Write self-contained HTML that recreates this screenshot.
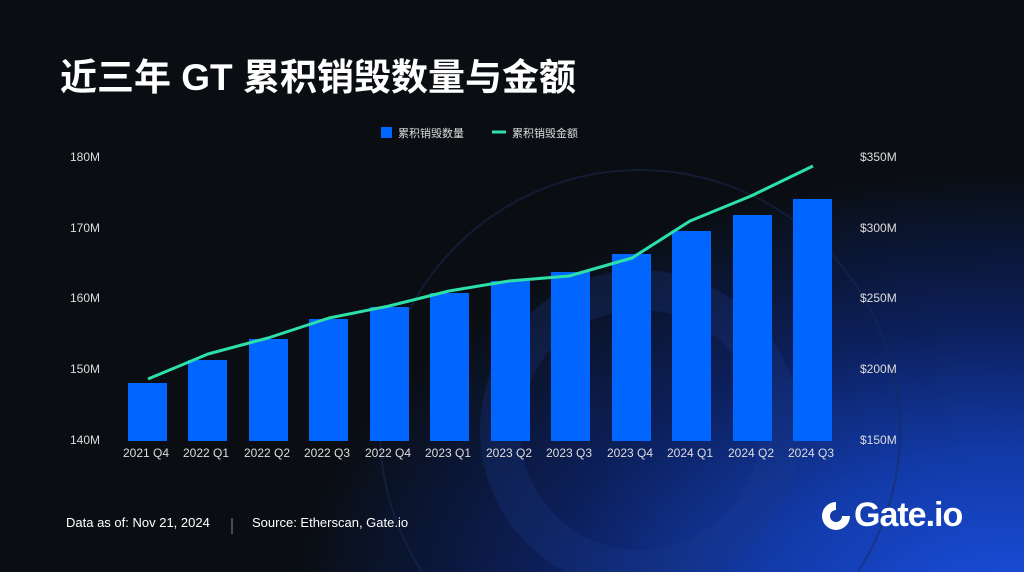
<!DOCTYPE html>
<html><head><meta charset="utf-8"><style>
html,body{margin:0;width:1024px;height:572px;overflow:hidden;font-family:"Liberation Sans","Noto Sans CJK SC",sans-serif;}
.bg{position:absolute;left:0;top:0;width:1024px;height:572px;background:#0a0e12;overflow:hidden}
.glow{position:absolute;left:0;top:0;width:1024px;height:572px;background:radial-gradient(ellipse 720px 440px at 1010px 610px,#1a4fe0 0%,#123aa8 35%,#0c1f5a 65%,rgba(10,14,18,0) 100%)}
.t{position:absolute;color:#fff;white-space:nowrap}
.box{position:absolute;left:0;top:0;width:1024px;height:572px;overflow:hidden}
</style></head><body><div class="bg"><div class="glow"></div>
<svg width="1024" height="572" style="position:absolute;left:0;top:0">
<circle cx="640" cy="430" r="260" fill="none" stroke="#1a2a55" stroke-width="2" opacity="0.5"/>
<circle cx="640" cy="430" r="140" fill="none" stroke="#1a3a90" stroke-width="40" opacity="0.25"/>
<g fill="#0066ff">
<rect x="128" y="383" width="39" height="58"/>
<rect x="188" y="360" width="39" height="81"/>
<rect x="249" y="339" width="39" height="102"/>
<rect x="309" y="319" width="39" height="122"/>
<rect x="370" y="307" width="39" height="134"/>
<rect x="430" y="293" width="39" height="148"/>
<rect x="491" y="281" width="39" height="160"/>
<rect x="551" y="272" width="39" height="169"/>
<rect x="612" y="254" width="39" height="187"/>
<rect x="672" y="231" width="39" height="210"/>
<rect x="733" y="215" width="39" height="226"/>
<rect x="793" y="199" width="39" height="242"/>
</g>
<polyline fill="none" stroke="#2de0a8" stroke-width="3" stroke-linejoin="round" points="148,379 208,354 268,338 329,318 389,306 449,291 509,281 569,276 632,258 690,221 751,196 813,166"/>
<rect x="381" y="127" width="11" height="11" fill="#0066ff"/>
<line x1="492" y1="132" x2="506" y2="132" stroke="#2de0a8" stroke-width="3"/>
<line x1="232" y1="518" x2="232" y2="534" stroke="#888" stroke-width="1"/>
</svg>
<div class="box">
<div class="t" style="left:60px;top:47px;font-size:37px;font-weight:bold">近三年 GT 累积销毁数量与金额</div>
<div class="t" style="left:398px;top:125px;font-size:11px;color:#ddd">累积销毁数量</div>
<div class="t" style="left:512px;top:125px;font-size:11px;color:#ddd">累积销毁金额</div>
<div class="t" style="left:70px;top:150px;font-size:12px;color:#ddd">180M</div>
<div class="t" style="left:70px;top:221px;font-size:12px;color:#ddd">170M</div>
<div class="t" style="left:70px;top:291px;font-size:12px;color:#ddd">160M</div>
<div class="t" style="left:70px;top:362px;font-size:12px;color:#ddd">150M</div>
<div class="t" style="left:70px;top:433px;font-size:12px;color:#ddd">140M</div>
<div class="t" style="left:860px;top:150px;font-size:12px;color:#ddd">$350M</div>
<div class="t" style="left:860px;top:221px;font-size:12px;color:#ddd">$300M</div>
<div class="t" style="left:860px;top:291px;font-size:12px;color:#ddd">$250M</div>
<div class="t" style="left:860px;top:362px;font-size:12px;color:#ddd">$200M</div>
<div class="t" style="left:860px;top:433px;font-size:12px;color:#ddd">$150M</div>
<div class="t" style="left:123px;top:446px;font-size:12px;color:#ddd">2021 Q4</div>
<div class="t" style="left:183px;top:446px;font-size:12px;color:#ddd">2022 Q1</div>
<div class="t" style="left:244px;top:446px;font-size:12px;color:#ddd">2022 Q2</div>
<div class="t" style="left:304px;top:446px;font-size:12px;color:#ddd">2022 Q3</div>
<div class="t" style="left:365px;top:446px;font-size:12px;color:#ddd">2022 Q4</div>
<div class="t" style="left:425px;top:446px;font-size:12px;color:#ddd">2023 Q1</div>
<div class="t" style="left:486px;top:446px;font-size:12px;color:#ddd">2023 Q2</div>
<div class="t" style="left:546px;top:446px;font-size:12px;color:#ddd">2023 Q3</div>
<div class="t" style="left:607px;top:446px;font-size:12px;color:#ddd">2023 Q4</div>
<div class="t" style="left:667px;top:446px;font-size:12px;color:#ddd">2024 Q1</div>
<div class="t" style="left:728px;top:446px;font-size:12px;color:#ddd">2024 Q2</div>
<div class="t" style="left:788px;top:446px;font-size:12px;color:#ddd">2024 Q3</div>
<div class="t" style="left:66px;top:515px;font-size:13px">Data as of: Nov 21, 2024</div>
<div class="t" style="left:252px;top:515px;font-size:13px">Source: Etherscan, Gate.io</div>
<svg width="34" height="34" style="position:absolute;left:819px;top:499px" viewBox="0 0 34 34">
<path d="M17 3 A14 14 0 1 0 31 17 L17 17 Z" fill="#fff"/><circle cx="17" cy="17" r="6" fill="#123aa8"/>
</svg>
<div class="t" style="left:854px;top:495px;font-size:34px;font-weight:bold;letter-spacing:-1px;line-height:40px">Gate.io</div>
</div>
</div></body></html>
